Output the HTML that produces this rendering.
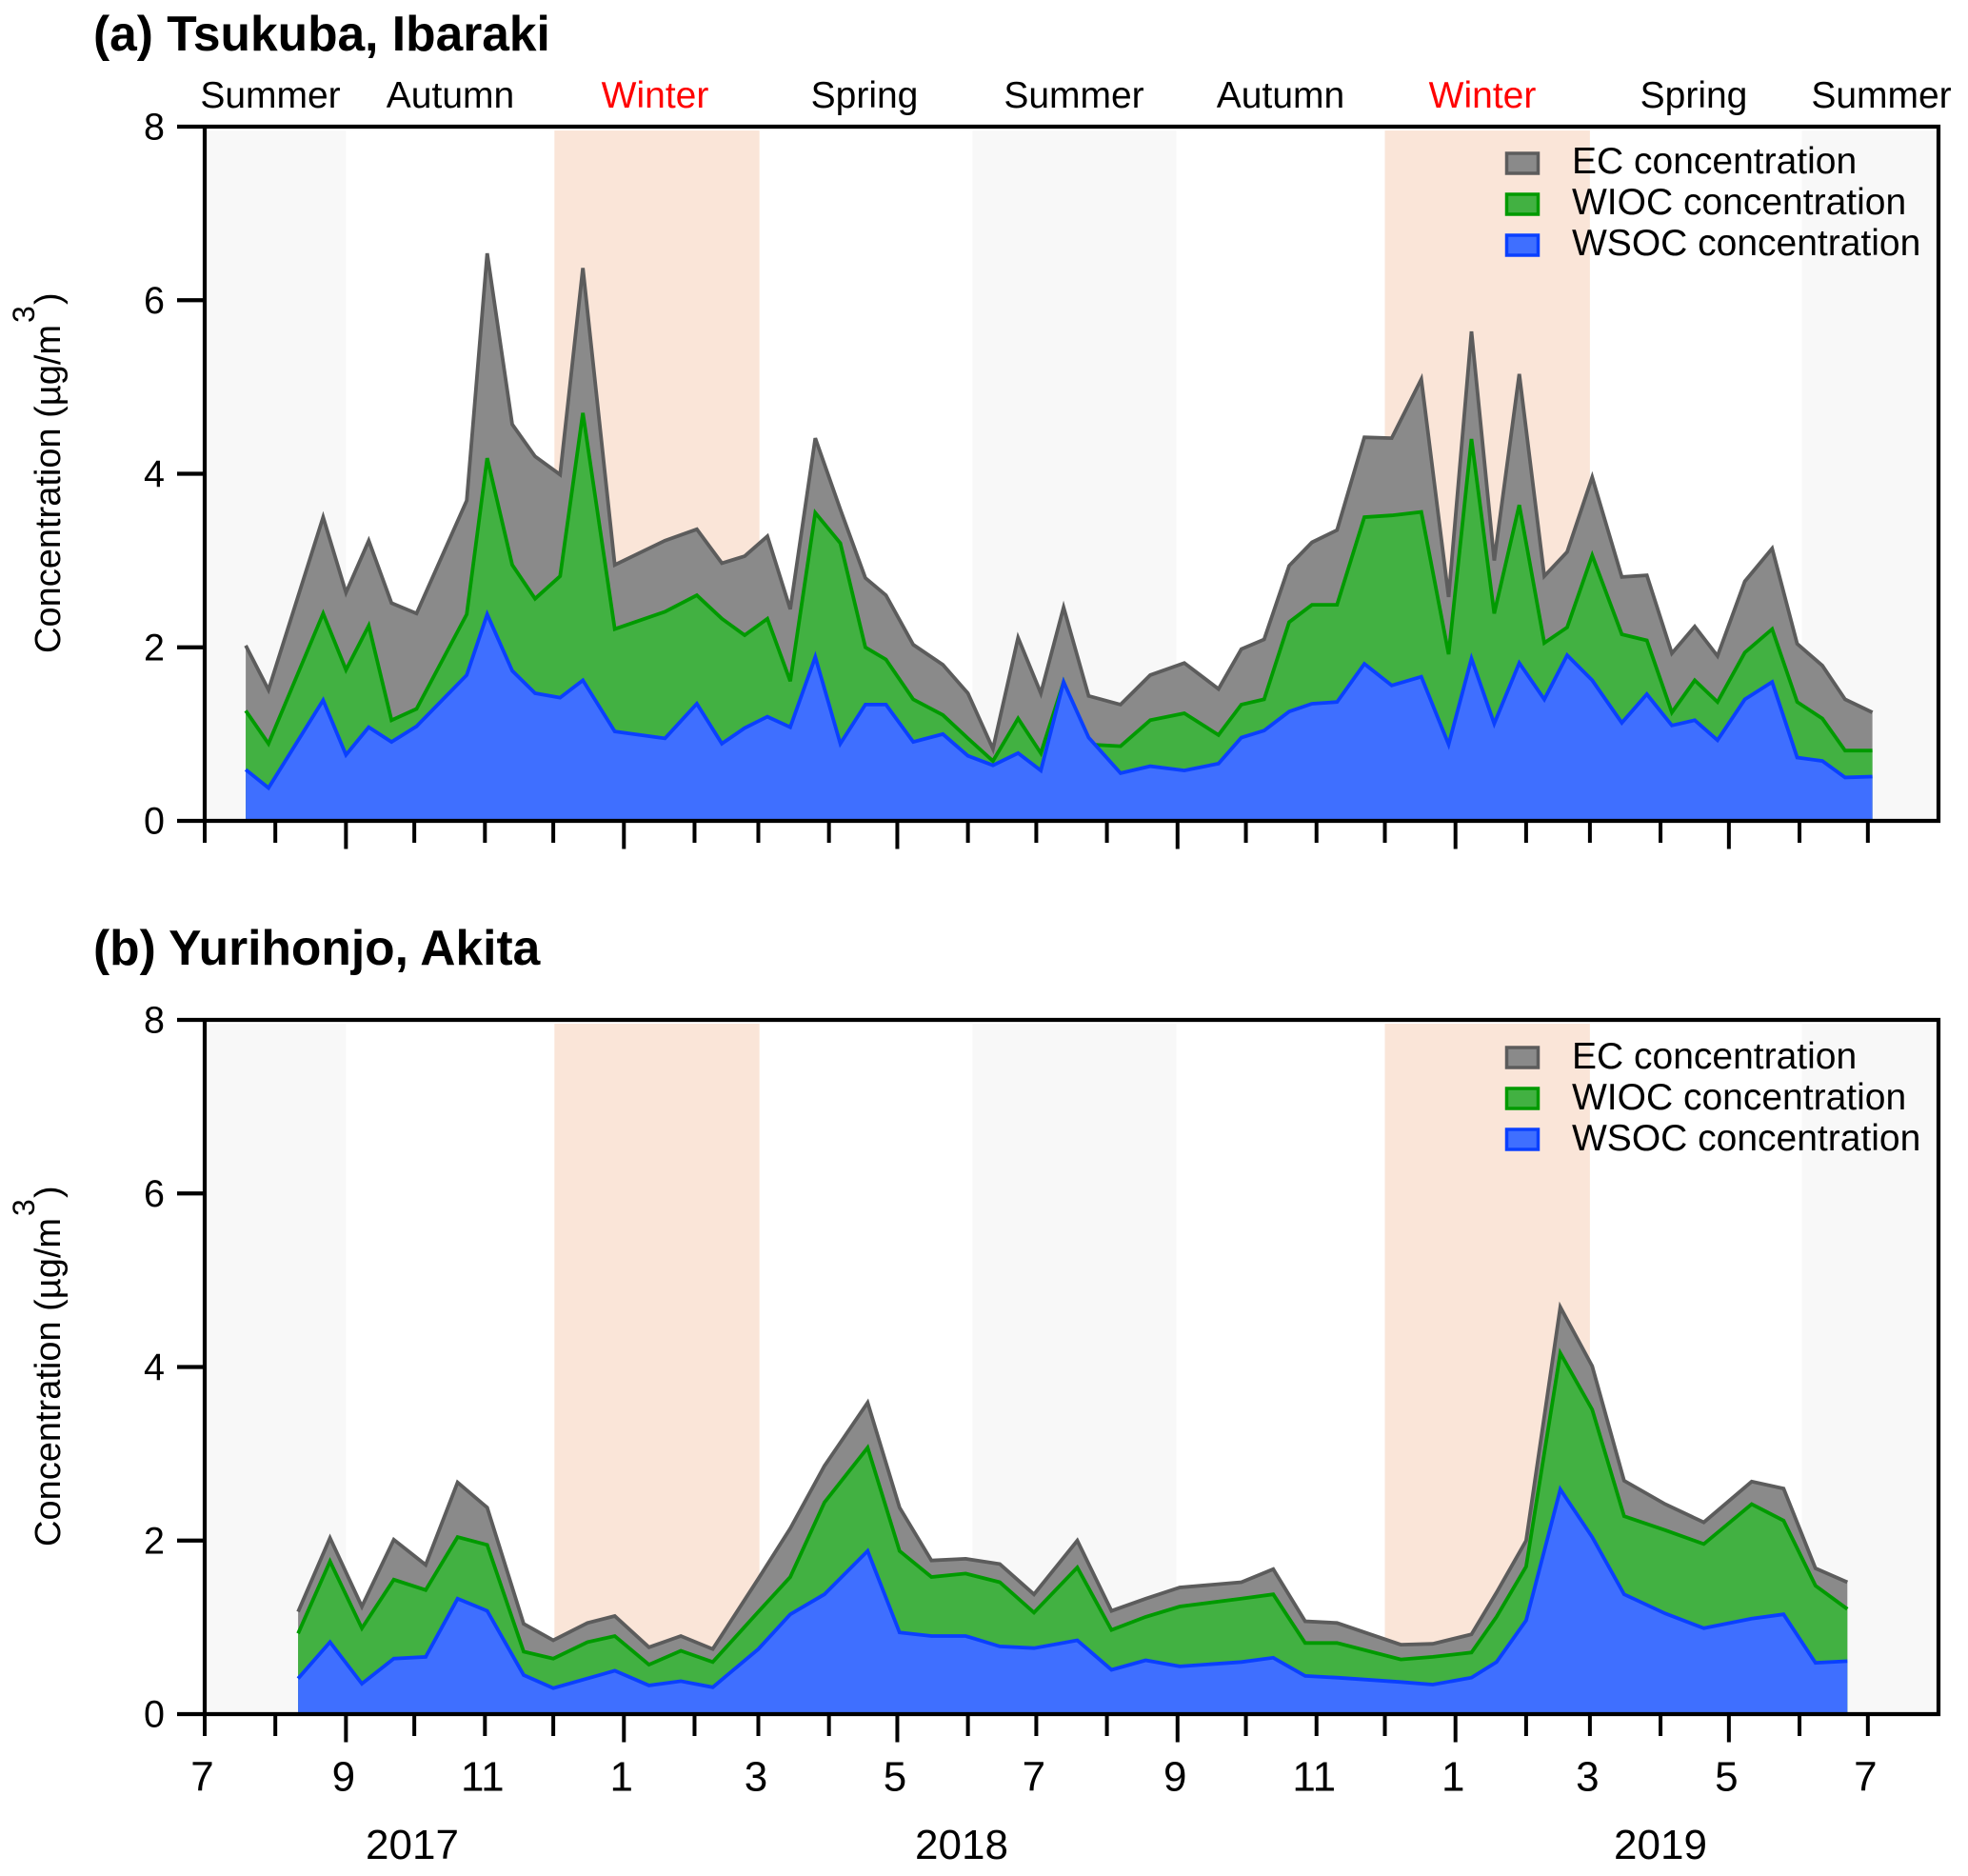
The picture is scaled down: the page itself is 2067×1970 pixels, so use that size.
<!DOCTYPE html>
<html lang="en">
<head>
<meta charset="utf-8">
<title>Carbon concentration at Tsukuba and Yurihonjo</title>
<style>
html,body{margin:0;padding:0;background:#fff}
svg{display:block}
text{font-family:"Liberation Sans",Arial,sans-serif;fill:#000}
</style>
</head>
<body>
<svg id="chart" xmlns="http://www.w3.org/2000/svg" width="2067" height="1970" viewBox="0 0 2067 1970">
  <rect x="0" y="0" width="2067" height="1970" fill="#fff"/>
  <g id="panelA"></g>
  <g id="panelB"></g>

  <text x="98" y="53" font-size="51.5" font-weight="bold">(a) Tsukuba, Ibaraki</text>
  <text x="98" y="1013" font-size="51.5" font-weight="bold">(b) Yurihonjo, Akita</text>

  <g font-size="39" text-anchor="middle">
    <text x="284" y="113">Summer</text>
    <text x="473" y="113">Autumn</text>
    <text x="688" y="113" style="fill:#f00">Winter</text>
    <text x="908" y="113">Spring</text>
    <text x="1128" y="113">Summer</text>
    <text x="1345" y="113">Autumn</text>
    <text x="1557" y="113" style="fill:#f00">Winter</text>
    <text x="1779" y="113">Spring</text>
    <text x="1976" y="113">Summer</text>
  </g>

  <g>
    <text font-size="38" transform="translate(63,686) rotate(-90)">Concentration (µg/m</text>
    <text font-size="32" transform="translate(36,339) rotate(-90)">3</text>
    <text font-size="38" transform="translate(63,320) rotate(-90)">)</text>
  </g>
  <g>
    <text font-size="38" transform="translate(63,1624) rotate(-90)">Concentration (µg/m</text>
    <text font-size="32" transform="translate(36,1277) rotate(-90)">3</text>
    <text font-size="38" transform="translate(63,1258) rotate(-90)">)</text>
  </g>

  <g font-size="44" text-anchor="middle">
    <text x="433" y="1952">2017</text>
    <text x="1010" y="1952">2018</text>
    <text x="1744" y="1952">2019</text>
  </g>

  <g font-size="39">
    <g><rect x="1582.5" y="161" width="33" height="21" fill="#8a8a8a" stroke="#5c5c5c" stroke-width="3.5"/><text x="1651" y="182">EC concentration</text></g>
    <g><rect x="1582.5" y="204" width="33" height="21" fill="#42b142" stroke="#009a00" stroke-width="3.5"/><text x="1651" y="225">WIOC concentration</text></g>
    <g><rect x="1582.5" y="247" width="33" height="21" fill="#3f6fff" stroke="#0a40ff" stroke-width="3.5"/><text x="1651" y="268">WSOC concentration</text></g>
  </g>
  <g font-size="39">
    <g><rect x="1582.5" y="1100" width="33" height="21" fill="#8a8a8a" stroke="#5c5c5c" stroke-width="3.5"/><text x="1651" y="1122">EC concentration</text></g>
    <g><rect x="1582.5" y="1143" width="33" height="21" fill="#42b142" stroke="#009a00" stroke-width="3.5"/><text x="1651" y="1165">WIOC concentration</text></g>
    <g><rect x="1582.5" y="1186" width="33" height="21" fill="#3f6fff" stroke="#0a40ff" stroke-width="3.5"/><text x="1651" y="1208">WSOC concentration</text></g>
  </g>
</svg>

<script>
// Sample times: days since 1 July 2017. Values: stacked heights in µg/m3.
const daysA = [18,28,52,62,72,82,93,115,124,135,145,156,166,180,202,216,227,237,247,257,268,279,290,299,311,324,335,346,357,367,377,388,402,415,430,445,455,465,476,486,497,509,521,534,546,556,566,577,588,598,609,622,633,644,654,664,676,688,699,710,720,732];
const ecTopA = [2.02,1.51,3.50,2.63,3.23,2.51,2.39,3.69,6.54,4.57,4.20,3.99,6.37,2.95,3.23,3.36,2.97,3.05,3.28,2.44,4.41,3.59,2.80,2.60,2.03,1.80,1.47,0.83,2.11,1.47,2.46,1.44,1.34,1.68,1.82,1.52,1.98,2.09,2.94,3.21,3.35,4.42,4.41,5.09,2.58,5.64,3.00,5.15,2.82,3.10,3.96,2.81,2.83,1.93,2.24,1.90,2.76,3.14,2.04,1.79,1.40,1.25];
const wiocTopA = [1.27,0.89,2.39,1.74,2.25,1.16,1.29,2.38,4.18,2.95,2.56,2.82,4.70,2.21,2.41,2.60,2.33,2.14,2.33,1.61,3.55,3.20,2.00,1.86,1.40,1.22,0.95,0.69,1.18,0.78,1.60,0.88,0.86,1.16,1.24,0.99,1.34,1.40,2.29,2.49,2.49,3.50,3.52,3.56,1.92,4.40,2.39,3.64,2.05,2.23,3.06,2.15,2.08,1.25,1.62,1.37,1.94,2.21,1.37,1.18,0.81,0.81];
const wsocA = [0.59,0.38,1.39,0.76,1.08,0.91,1.09,1.68,2.38,1.73,1.47,1.42,1.62,1.03,0.95,1.35,0.89,1.07,1.20,1.08,1.89,0.89,1.34,1.34,0.91,1.00,0.75,0.64,0.78,0.58,1.60,0.96,0.55,0.63,0.58,0.66,0.96,1.04,1.26,1.35,1.37,1.81,1.56,1.66,0.88,1.87,1.12,1.82,1.40,1.91,1.62,1.13,1.46,1.10,1.16,0.93,1.40,1.60,0.73,0.69,0.50,0.51];

const daysB = [41,55,69,83,97,111,124,140,153,168,180,195,209,223,243,257,272,291,305,319,334,349,364,383,398,413,428,455,469,483,497,525,539,556,567,580,595,609,623,641,658,679,693,707,721];
const ecTopB = [1.18,2.03,1.24,2.01,1.72,2.67,2.38,1.04,0.85,1.05,1.13,0.77,0.90,0.75,1.56,2.14,2.86,3.59,2.38,1.77,1.79,1.73,1.38,2.00,1.19,1.33,1.46,1.52,1.67,1.07,1.05,0.80,0.81,0.92,1.40,2.00,4.69,4.01,2.69,2.42,2.21,2.68,2.60,1.68,1.52];
const wiocTopB = [0.93,1.76,0.99,1.55,1.43,2.04,1.95,0.72,0.64,0.83,0.90,0.57,0.73,0.60,1.18,1.58,2.44,3.07,1.88,1.58,1.62,1.52,1.17,1.69,0.97,1.12,1.24,1.33,1.38,0.82,0.82,0.63,0.66,0.71,1.12,1.70,4.16,3.51,2.28,2.12,1.96,2.42,2.23,1.48,1.21];
const wsocB = [0.41,0.83,0.35,0.64,0.66,1.33,1.19,0.45,0.30,0.41,0.50,0.33,0.38,0.31,0.75,1.15,1.38,1.88,0.94,0.90,0.90,0.78,0.76,0.85,0.51,0.62,0.55,0.60,0.65,0.44,0.42,0.37,0.34,0.42,0.60,1.08,2.59,2.04,1.38,1.16,0.99,1.10,1.15,0.59,0.61];

const yTickValues = [0,2,4,6,8];
const monthLabels = [7,9,11,1,3,5,7,9,11,1,3,5,7];
const summerBands = [[0,62],[337,426.5],[701,761]];
const winterBands = [[153.5,243.5],[518,608]];

const SVG_NS = 'http://www.w3.org/2000/svg';
const LEFT = 215, RIGHT = 2036, DAY_SPAN = 761, Y_MAX = 8;

function xScale(day) { return LEFT + (day / DAY_SPAN) * (RIGHT - LEFT); }
function yScale(value, top, bottom) { return bottom - (value / Y_MAX) * (bottom - top); }
function monthDay(index) { return (Date.UTC(2017, 6 + index, 1) - Date.UTC(2017, 6, 1)) / 86400000; }
function make(parent, tag, attrs) {
  const el = document.createElementNS(SVG_NS, tag);
  for (const k in attrs) el.setAttribute(k, attrs[k]);
  parent.appendChild(el);
  return el;
}

function drawPanel(group, key, top, bottom, days, ecTop, wiocTop, wsoc, showLabels) {
  const y = function (v) { return yScale(v, top, bottom); };

  summerBands.forEach(function (b) {
    const r = make(group, 'rect', { x: xScale(b[0]), y: top + 4, width: xScale(b[1]) - xScale(b[0]), height: bottom - top - 4, fill: '#f8f8f8' });
    
    
  });
  winterBands.forEach(function (b) {
    const r = make(group, 'rect', { x: xScale(b[0]), y: top + 4, width: xScale(b[1]) - xScale(b[0]), height: bottom - top - 4, fill: '#fae5d8' });
    
    
  });

  const seriesList = [
    { name: 'ec', vals: ecTop, fill: '#8a8a8a', line: '#5c5c5c' },
    { name: 'wioc', vals: wiocTop, fill: '#42b142', line: '#009a00' },
    { name: 'wsoc', vals: wsoc, fill: '#3f6fff', line: '#0a40ff' }
  ];
  seriesList.forEach(function (s) {
    const pts = s.vals.map(function (v, i) { return xScale(days[i]).toFixed(1) + ',' + y(v).toFixed(1); });
    const base = xScale(days[days.length - 1]).toFixed(1) + ',' + bottom + ' ' + xScale(days[0]).toFixed(1) + ',' + bottom;
    const area = make(group, 'polygon', { points: pts.join(' ') + ' ' + base, fill: s.fill });
    
    
    const line = make(group, 'polyline', { points: pts.join(' '), fill: 'none', stroke: s.line, 'stroke-width': 3.8, 'stroke-linejoin': 'miter' });
    
    
  });

  const frame = make(group, 'path', {
    d: 'M' + (LEFT - 29) + ' ' + top + 'H' + RIGHT + 'V' + bottom + 'H' + (LEFT - 29) + 'M' + LEFT + ' ' + top + 'V' + bottom,
    fill: 'none', stroke: '#000', 'stroke-width': 4.2
  });
  
  

  yTickValues.forEach(function (v) {
    if (v > 0 && v < 8) {
      const t = make(group, 'line', { x1: LEFT - 29, x2: LEFT, y1: y(v), y2: y(v), stroke: '#000', 'stroke-width': 4.2 });
      
      
    }
    const lab = make(group, 'text', { x: 173, y: y(v) + 13.5, 'font-size': 39.5, 'text-anchor': 'end' });
    
    
    lab.textContent = v;
  });

  for (let i = 0; i <= 24; i++) {
    const d = monthDay(i);
    const isLong = (i + 2) % 4 === 0 && i > 0;
    const t = make(group, 'line', { x1: xScale(d), x2: xScale(d), y1: bottom, y2: bottom + (isLong ? 29.5 : 23), stroke: '#000', 'stroke-width': 4 });
    
    
  }

  if (showLabels) {
    monthLabels.forEach(function (m, i) {
      const lab = make(group, 'text', { x: xScale(monthDay(i * 2)) - 2.5, y: bottom + 80.5, 'font-size': 44, 'text-anchor': 'middle' });
      
      
      lab.textContent = m;
    });
  }
}

drawPanel(document.getElementById('panelA'), 'a', 133, 862, daysA, ecTopA, wiocTopA, wsocA, false);
drawPanel(document.getElementById('panelB'), 'b', 1071, 1800, daysB, ecTopB, wiocTopB, wsocB, true);
</script>
</body>
</html>
